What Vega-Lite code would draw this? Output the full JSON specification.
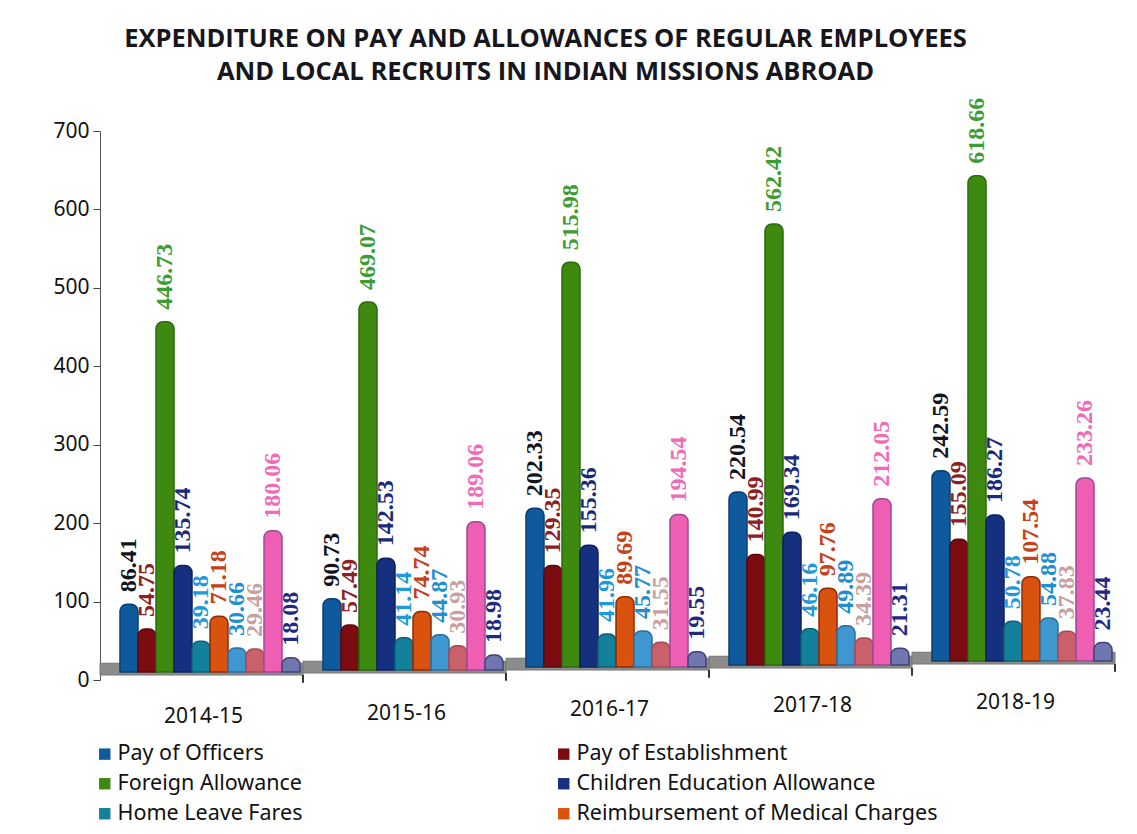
{"$schema":"https://vega.github.io/schema/vega-lite/v6.json","autosize":"none","width":1015,"height":549,"padding":{"left":100,"top":131,"right":22,"bottom":154},"background":"#ffffff",
"title":{"text":["EXPENDITURE ON PAY AND ALLOWANCES OF REGULAR EMPLOYEES","AND LOCAL RECRUITS IN INDIAN MISSIONS ABROAD"],"anchor":"middle","dx":-62,"offset":12,"font":"Open Sans","fontSize":25.5,"fontWeight":"bold","color":"#16161c","lineHeight":33},
"config":{"view":{"stroke":null},"axisY":{"grid":false,"domainColor":"#555555","tickColor":"#444444","tickSize":7,"labelFont":"Noto Sans","labelFontSize":21,"labelColor":"#111111","labelPadding":4,"tickCount":8,"values":[0,100,200,300,400,500,600,700],"title":null}},
"data":{"values":[
{"period":"2014-15","series":"Pay of Officers","value":86.41},{"period":"2014-15","series":"Pay of Establishment","value":54.75},{"period":"2014-15","series":"Foreign Allowance","value":446.73},{"period":"2014-15","series":"Children Education Allowance","value":135.74},{"period":"2014-15","series":"Home Leave Fares","value":39.18},{"period":"2014-15","series":"Reimbursement of Medical Charges","value":71.18},{"period":"2014-15","series":"Series 7","value":30.66},{"period":"2014-15","series":"Series 8","value":29.46},{"period":"2014-15","series":"Series 9","value":180.06},{"period":"2014-15","series":"Series 10","value":18.08},
{"period":"2015-16","series":"Pay of Officers","value":90.73},{"period":"2015-16","series":"Pay of Establishment","value":57.49},{"period":"2015-16","series":"Foreign Allowance","value":469.07},{"period":"2015-16","series":"Children Education Allowance","value":142.53},{"period":"2015-16","series":"Home Leave Fares","value":41.14},{"period":"2015-16","series":"Reimbursement of Medical Charges","value":74.74},{"period":"2015-16","series":"Series 7","value":44.87},{"period":"2015-16","series":"Series 8","value":30.93},{"period":"2015-16","series":"Series 9","value":189.06},{"period":"2015-16","series":"Series 10","value":18.98},
{"period":"2016-17","series":"Pay of Officers","value":202.33},{"period":"2016-17","series":"Pay of Establishment","value":129.35},{"period":"2016-17","series":"Foreign Allowance","value":515.98},{"period":"2016-17","series":"Children Education Allowance","value":155.36},{"period":"2016-17","series":"Home Leave Fares","value":41.96},{"period":"2016-17","series":"Reimbursement of Medical Charges","value":89.69},{"period":"2016-17","series":"Series 7","value":45.77},{"period":"2016-17","series":"Series 8","value":31.55},{"period":"2016-17","series":"Series 9","value":194.54},{"period":"2016-17","series":"Series 10","value":19.55},
{"period":"2017-18","series":"Pay of Officers","value":220.54},{"period":"2017-18","series":"Pay of Establishment","value":140.99},{"period":"2017-18","series":"Foreign Allowance","value":562.42},{"period":"2017-18","series":"Children Education Allowance","value":169.34},{"period":"2017-18","series":"Home Leave Fares","value":46.16},{"period":"2017-18","series":"Reimbursement of Medical Charges","value":97.76},{"period":"2017-18","series":"Series 7","value":49.89},{"period":"2017-18","series":"Series 8","value":34.39},{"period":"2017-18","series":"Series 9","value":212.05},{"period":"2017-18","series":"Series 10","value":21.31},
{"period":"2018-19","series":"Pay of Officers","value":242.59},{"period":"2018-19","series":"Pay of Establishment","value":155.09},{"period":"2018-19","series":"Foreign Allowance","value":618.66},{"period":"2018-19","series":"Children Education Allowance","value":186.27},{"period":"2018-19","series":"Home Leave Fares","value":50.78},{"period":"2018-19","series":"Reimbursement of Medical Charges","value":107.54},{"period":"2018-19","series":"Series 7","value":54.88},{"period":"2018-19","series":"Series 8","value":37.83},{"period":"2018-19","series":"Series 9","value":233.26},{"period":"2018-19","series":"Series 10","value":23.44}
]},
"encoding":{"x":{"field":"period","type":"nominal","scale":{"paddingInner":0,"paddingOuter":0},"axis":{"title":null,"labels":false,"domain":false,"ticks":false}}},
"layer":[
{"transform":[{"filter":"datum.series==='Pay of Officers'&&datum.period==='2014-15'"}],"mark":{"type":"bar","color":"#8c8c8c","stroke":"#777777","strokeWidth":1,"yOffset":-5,"y2Offset":-5},"encoding":{"y":{"datum":0},"y2":{"datum":15}}},
{"transform":[{"filter":"datum.series==='Pay of Officers'&&datum.period==='2015-16'"}],"mark":{"type":"bar","color":"#8c8c8c","stroke":"#777777","strokeWidth":1,"yOffset":-7,"y2Offset":-7},"encoding":{"y":{"datum":0},"y2":{"datum":15}}},
{"transform":[{"filter":"datum.series==='Pay of Officers'&&datum.period==='2016-17'"}],"mark":{"type":"bar","color":"#8c8c8c","stroke":"#777777","strokeWidth":1,"yOffset":-10,"y2Offset":-10},"encoding":{"y":{"datum":0},"y2":{"datum":15}}},
{"transform":[{"filter":"datum.series==='Pay of Officers'&&datum.period==='2017-18'"}],"mark":{"type":"bar","color":"#8c8c8c","stroke":"#777777","strokeWidth":1,"yOffset":-12,"y2Offset":-12},"encoding":{"y":{"datum":0},"y2":{"datum":15}}},
{"transform":[{"filter":"datum.series==='Pay of Officers'&&datum.period==='2018-19'"}],"mark":{"type":"bar","color":"#8c8c8c","stroke":"#777777","strokeWidth":1,"yOffset":-16,"y2Offset":-16},"encoding":{"y":{"datum":0},"y2":{"datum":15}}},
{"encoding":{"xOffset":{"field":"series","type":"nominal","scale":{"domain":["Pay of Officers","Pay of Establishment","Foreign Allowance","Children Education Allowance","Home Leave Fares","Reimbursement of Medical Charges","Series 7","Series 8","Series 9","Series 10"],"range":[20,200],"paddingInner":0,"paddingOuter":0}},"y":{"field":"value","type":"quantitative","stack":null,"scale":{"domain":[0,700],"nice":false}}},
"layer":[
{"encoding":{"y2":{"datum":0},"color":{"field":"series","type":"nominal","scale":{"domain":["Pay of Officers","Pay of Establishment","Foreign Allowance","Children Education Allowance","Home Leave Fares","Reimbursement of Medical Charges","Series 7","Series 8","Series 9","Series 10"],"range":["#0f5a9c","#7a0c12","#3e8a10","#14307f","#13809c","#d9530f","#3f97cf","#c9606a","#ee5fb4","#6f76b0"]},"legend":{"values":["Pay of Officers","Pay of Establishment","Foreign Allowance","Children Education Allowance","Home Leave Fares","Reimbursement of Medical Charges"],"orient":"none","direction":"horizontal","legendX":-6,"legendY":612,"columns":2,"columnPadding":250,"rowPadding":7,"title":null,"symbolType":"square","symbolSize":130,"symbolStrokeWidth":0,"labelFont":"Noto Sans","labelFontSize":21.5,"labelColor":"#111111","labelLimit":400,"labelOffset":2}},"stroke":{"field":"series","type":"nominal","legend":null,"scale":{"domain":["Pay of Officers","Pay of Establishment","Foreign Allowance","Children Education Allowance","Home Leave Fares","Reimbursement of Medical Charges","Series 7","Series 8","Series 9","Series 10"],"range":["#0a3f70","#5c080c","#2b6a08","#0d2060","#0d6078","#8f2a05","#2b6f9f","#a84a52","#9a4a9a","#3e4478"]}}},
"layer":[
{"transform":[{"filter":"datum.period==='2014-15'"}],"mark":{"type":"bar","strokeWidth":1.5,"cornerRadiusTopLeft":7,"cornerRadiusTopRight":7,"yOffset":-8,"y2Offset":-8}},
{"transform":[{"filter":"datum.period==='2015-16'"}],"mark":{"type":"bar","strokeWidth":1.5,"cornerRadiusTopLeft":7,"cornerRadiusTopRight":7,"yOffset":-10,"y2Offset":-10}},
{"transform":[{"filter":"datum.period==='2016-17'"}],"mark":{"type":"bar","strokeWidth":1.5,"cornerRadiusTopLeft":7,"cornerRadiusTopRight":7,"yOffset":-13,"y2Offset":-13}},
{"transform":[{"filter":"datum.period==='2017-18'"}],"mark":{"type":"bar","strokeWidth":1.5,"cornerRadiusTopLeft":7,"cornerRadiusTopRight":7,"yOffset":-15,"y2Offset":-15}},
{"transform":[{"filter":"datum.period==='2018-19'"}],"mark":{"type":"bar","strokeWidth":1.5,"cornerRadiusTopLeft":7,"cornerRadiusTopRight":7,"yOffset":-19,"y2Offset":-19}}
]},
{"encoding":{"text":{"field":"value","type":"quantitative","format":".2f"},"fill":{"field":"series","type":"nominal","legend":null,"scale":{"domain":["Pay of Officers","Pay of Establishment","Foreign Allowance","Children Education Allowance","Home Leave Fares","Reimbursement of Medical Charges","Series 7","Series 8","Series 9","Series 10"],"range":["#10141f","#8e2020","#3e9c35","#1a2a78","#1e9ad6","#c8401a","#1f8fd0","#c9a0a0","#f06ab8","#1f2a80"]}}},
"layer":[
{"transform":[{"filter":"datum.period==='2014-15'"}],"mark":{"type":"text","angle":270,"align":"left","baseline":"middle","dx":12,"yOffset":-8,"font":"Liberation Serif","fontWeight":"bold","fontSize":24}},
{"transform":[{"filter":"datum.period==='2015-16'"}],"mark":{"type":"text","angle":270,"align":"left","baseline":"middle","dx":12,"yOffset":-10,"font":"Liberation Serif","fontWeight":"bold","fontSize":24}},
{"transform":[{"filter":"datum.period==='2016-17'"}],"mark":{"type":"text","angle":270,"align":"left","baseline":"middle","dx":12,"yOffset":-13,"font":"Liberation Serif","fontWeight":"bold","fontSize":24}},
{"transform":[{"filter":"datum.period==='2017-18'"}],"mark":{"type":"text","angle":270,"align":"left","baseline":"middle","dx":12,"yOffset":-15,"font":"Liberation Serif","fontWeight":"bold","fontSize":24}},
{"transform":[{"filter":"datum.period==='2018-19'"}],"mark":{"type":"text","angle":270,"align":"left","baseline":"middle","dx":12,"yOffset":-19,"font":"Liberation Serif","fontWeight":"bold","fontSize":24}}
]}
]},
{"transform":[{"filter":"datum.series==='Pay of Officers'&&datum.period==='2014-15'"}],"mark":{"type":"rule","color":"#333333","strokeWidth":2,"yOffset":-5,"y2Offset":-5},"encoding":{"x":{"field":"period","type":"nominal","bandPosition":1},"y":{"datum":0},"y2":{"datum":-10}}},
{"transform":[{"filter":"datum.series==='Pay of Officers'&&datum.period==='2015-16'"}],"mark":{"type":"rule","color":"#333333","strokeWidth":2,"yOffset":-7,"y2Offset":-7},"encoding":{"x":{"field":"period","type":"nominal","bandPosition":1},"y":{"datum":0},"y2":{"datum":-10}}},
{"transform":[{"filter":"datum.series==='Pay of Officers'&&datum.period==='2016-17'"}],"mark":{"type":"rule","color":"#333333","strokeWidth":2,"yOffset":-10,"y2Offset":-10},"encoding":{"x":{"field":"period","type":"nominal","bandPosition":1},"y":{"datum":0},"y2":{"datum":-10}}},
{"transform":[{"filter":"datum.series==='Pay of Officers'&&datum.period==='2017-18'"}],"mark":{"type":"rule","color":"#333333","strokeWidth":2,"yOffset":-12,"y2Offset":-12},"encoding":{"x":{"field":"period","type":"nominal","bandPosition":1},"y":{"datum":0},"y2":{"datum":-10}}},
{"transform":[{"filter":"datum.series==='Pay of Officers'&&datum.period==='2018-19'"}],"mark":{"type":"rule","color":"#333333","strokeWidth":2,"yOffset":-16,"y2Offset":-16},"encoding":{"x":{"field":"period","type":"nominal","bandPosition":1},"y":{"datum":0},"y2":{"datum":-10}}},
{"transform":[{"filter":"datum.series==='Pay of Officers'&&datum.period==='2014-15'"}],"mark":{"type":"text","font":"Noto Sans","fontSize":21,"color":"#111111","dx":2,"baseline":"middle","yOffset":37},"encoding":{"y":{"datum":0},"text":{"field":"period"}}},
{"transform":[{"filter":"datum.series==='Pay of Officers'&&datum.period==='2015-16'"}],"mark":{"type":"text","font":"Noto Sans","fontSize":21,"color":"#111111","dx":2,"baseline":"middle","yOffset":34},"encoding":{"y":{"datum":0},"text":{"field":"period"}}},
{"transform":[{"filter":"datum.series==='Pay of Officers'&&datum.period==='2016-17'"}],"mark":{"type":"text","font":"Noto Sans","fontSize":21,"color":"#111111","dx":2,"baseline":"middle","yOffset":30},"encoding":{"y":{"datum":0},"text":{"field":"period"}}},
{"transform":[{"filter":"datum.series==='Pay of Officers'&&datum.period==='2017-18'"}],"mark":{"type":"text","font":"Noto Sans","fontSize":21,"color":"#111111","dx":2,"baseline":"middle","yOffset":26},"encoding":{"y":{"datum":0},"text":{"field":"period"}}},
{"transform":[{"filter":"datum.series==='Pay of Officers'&&datum.period==='2018-19'"}],"mark":{"type":"text","font":"Noto Sans","fontSize":21,"color":"#111111","dx":2,"baseline":"middle","yOffset":23},"encoding":{"y":{"datum":0},"text":{"field":"period"}}}
]}
